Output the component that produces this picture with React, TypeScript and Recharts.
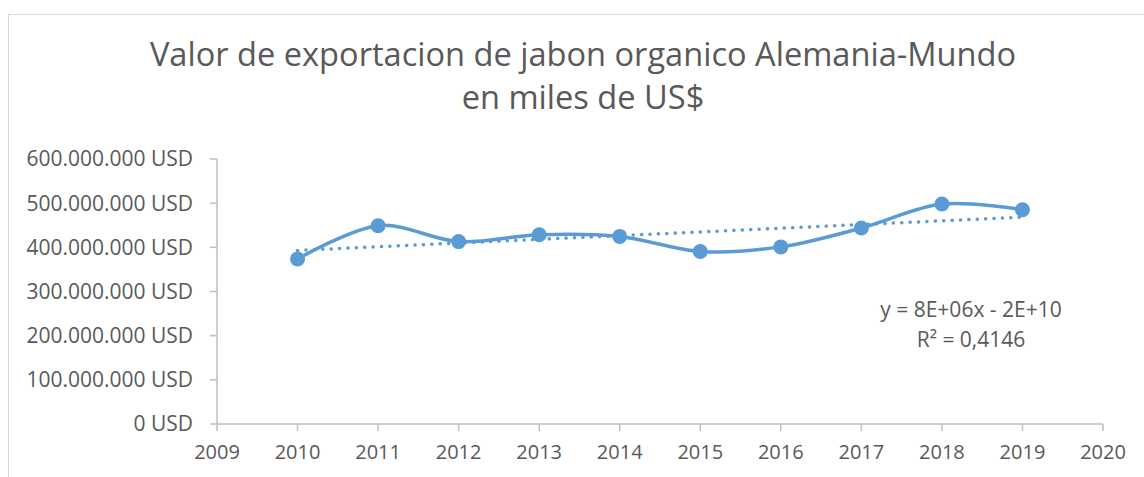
import React from 'react';
import { LineChart, Line, XAxis, YAxis } from 'recharts';

const years: number[] = [2010, 2011, 2012, 2013, 2014, 2015, 2016, 2017, 2018, 2019];
const exportValues: number[] = [373500000, 449000000, 413000000, 428600000, 424700000, 390700000, 401000000, 443700000, 498000000, 485000000];
const xTicks: number[] = [2009, 2010, 2011, 2012, 2013, 2014, 2015, 2016, 2017, 2018, 2019, 2020];
const yTicks: number[] = [0, 100000000, 200000000, 300000000, 400000000, 500000000, 600000000];
const titleLines: string[] = ['Valor de exportacion de jabon organico Alemania-Mundo', 'en miles de US$'];
const equationLines: string[] = ['y = 8E+06x - 2E+10', 'R² = 0,4146'];

// least-squares linear trendline (as Excel computes it) from the series
const n = years.length;
const mx = years.reduce((a, b) => a + b, 0) / n;
const my = exportValues.reduce((a, b) => a + b, 0) / n;
let sxy = 0;
let sxx = 0;
for (let i = 0; i < n; i++) {
  sxy += (years[i] - mx) * (exportValues[i] - my);
  sxx += (years[i] - mx) * (years[i] - mx);
}
const slope = sxy / sxx;
const intercept = my - slope * mx;

const data = years.map((y, i) => ({ year: y, value: exportValues[i], trend: intercept + slope * y }));

const fmtUSD = (v: number) => String(Math.round(v)).replace(/\B(?=(\d{3})+(?!\d))/g, '.') + ' USD';

// Catmull-Rom style smoothing (cardinal, tension 0), similar to Excel's smoothed line
class Cardinal {
  _context: any;
  _k: number;
  _line: number = NaN;
  _point: number = 0;
  _x0 = NaN; _x1 = NaN; _x2 = NaN; _y0 = NaN; _y1 = NaN; _y2 = NaN;
  constructor(context: any, tension: number) {
    this._context = context;
    this._k = (1 - tension) / 6;
  }
  areaStart() { this._line = 0; }
  areaEnd() { this._line = NaN; }
  lineStart() {
    this._x0 = this._x1 = this._x2 = this._y0 = this._y1 = this._y2 = NaN;
    this._point = 0;
  }
  lineEnd() {
    switch (this._point) {
      case 2: this._context.lineTo(this._x2, this._y2); break;
      case 3: this.seg(this._x1, this._y1); break;
    }
    if (this._line || (this._line !== 0 && this._point === 1)) this._context.closePath();
    this._line = 1 - this._line;
  }
  seg(x: number, y: number) {
    this._context.bezierCurveTo(
      this._x1 + this._k * (this._x2 - this._x0),
      this._y1 + this._k * (this._y2 - this._y0),
      this._x2 + this._k * (this._x1 - x),
      this._y2 + this._k * (this._y1 - y),
      this._x2,
      this._y2
    );
  }
  point(x: number, y: number) {
    x = +x; y = +y;
    switch (this._point) {
      case 0:
        this._point = 1;
        if (this._line) this._context.lineTo(x, y); else this._context.moveTo(x, y);
        break;
      case 1:
        this._point = 2; this._x1 = x; this._y1 = y;
        break;
      case 2:
        this._point = 3;
        this.seg(x, y);
        break;
      default:
        this.seg(x, y);
        break;
    }
    this._x0 = this._x1; this._x1 = this._x2; this._x2 = x;
    this._y0 = this._y1; this._y1 = this._y2; this._y2 = y;
  }
}
const curveSmooth: any = (context: any) => new Cardinal(context, 0);

const FONT = '"Open Sans", "Noto Sans", sans-serif';
const TEXT = '#595959';
const BLUE = '#5B9BD5';
const AXIS = '#BFBFBF';

export default function App() {
  return (
    <div style={{ position: 'absolute', left: 0, top: 0, width: 1144, height: 477, background: '#fff', overflow: 'hidden', fontFamily: FONT }}>
      <div style={{ position: 'absolute', left: 8, top: 14, width: 1144, height: 480, borderTop: '1px solid #D9D9D9', borderLeft: '1px solid #D9D9D9', boxSizing: 'border-box' }} />
      <div style={{ position: 'absolute', left: 0, top: 32, width: 1166, textAlign: 'center', color: TEXT, fontSize: 32.6, lineHeight: '43px', fontWeight: 400 }}>
        {titleLines.map((t) => (<div key={t}>{t}</div>))}
      </div>
      <div style={{ position: 'absolute', left: 0, top: 0 }}>
        <LineChart width={1144} height={477} data={data} margin={{ top: 159, right: 41, bottom: 0, left: 17 }}>
          <XAxis
            dataKey="year"
            type="number"
            domain={[2009, 2020]}
            ticks={xTicks}
            interval={0}
            allowDataOverflow
            height={53}
            stroke={AXIS}
            tickSize={7}
            tickMargin={14}
            tick={{ fill: TEXT, fontSize: 20, fontFamily: FONT }}
            axisLine={{ stroke: AXIS, strokeWidth: 1.5 }}
            tickLine={{ stroke: AXIS, strokeWidth: 1.5 }}
          />
          <YAxis
            type="number"
            domain={[0, 600000000]}
            ticks={yTicks}
            interval={0}
            width={200}
            stroke={AXIS}
            tickSize={7}
            tickMargin={17}
            tickFormatter={fmtUSD}
            tick={{ fill: TEXT, fontSize: 21, fontFamily: FONT }}
            axisLine={{ stroke: AXIS, strokeWidth: 1.5 }}
            tickLine={{ stroke: AXIS, strokeWidth: 1.5 }}
          />
          <Line
            dataKey="value"
            type={curveSmooth}
            stroke={BLUE}
            strokeWidth={3.5}
            dot={{ r: 7.5, fill: BLUE, stroke: BLUE, strokeWidth: 0 }}
            activeDot={false}
            isAnimationActive={false}
          />
          <Line
            dataKey="trend"
            type="linear"
            stroke={BLUE}
            strokeWidth={3.5}
            strokeDasharray="0.1 8.3"
            strokeLinecap="round"
            dot={false}
            activeDot={false}
            isAnimationActive={false}
          />
        </LineChart>
      </div>
      <div style={{ position: 'absolute', left: 861, top: 294, width: 220, textAlign: 'center', color: TEXT, fontSize: 21, lineHeight: '30px' }}>
        {equationLines.map((t) => (<div key={t}>{t}</div>))}
      </div>
    </div>
  );
}
